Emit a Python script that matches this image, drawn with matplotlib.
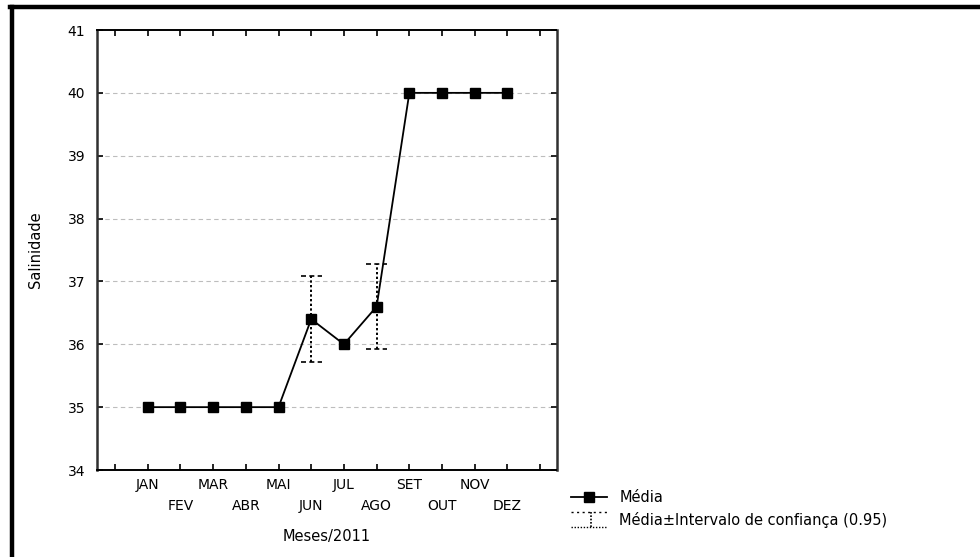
import matplotlib
matplotlib.use("Agg")
import matplotlib.pyplot as plt
from matplotlib.lines import Line2D
from matplotlib.legend_handler import HandlerBase
import numpy as np

plt.rcParams['font.family'] = ['DejaVu Sans']

months = ["JAN", "FEV", "MAR", "ABR", "MAI", "JUN",
          "JUL", "AGO", "SET", "OUT", "NOV", "DEZ"]
salinity = [35.0, 35.0, 35.0, 35.0, 35.0, 36.4, 36.0, 36.6, 40.0, 40.0, 40.0, 40.0]
ci_months = ["JUN", "AGO"]
ci_half = [0.68, 0.68]

x = np.arange(1, len(months) + 1)

fig = plt.figure(figsize=(9.8, 5.57), dpi=100)
ax = fig.add_axes([97 / 980, 1 - 470 / 557, (556.5 - 97) / 980, (470 - 30) / 557])

# dashed horizontal grid
for yv in range(35, 41):
    ax.axhline(yv, color="#bdbdbd", lw=0.8, ls=(0, (4, 3)), zorder=0)

# confidence interval whiskers
for m, h in zip(ci_months, ci_half):
    xi = months.index(m) + 1
    yi = salinity[xi - 1]
    ax.vlines(xi, yi - h, yi + h, color="black", lw=1.4, ls=(0, (1.2, 1.2)), zorder=2)
    ax.hlines([yi - h, yi + h], xi - 0.32, xi + 0.32, color="black", lw=1.2,
              ls=(0, (3, 2)), zorder=2)

ax.plot(x, salinity, color="black", lw=1.3, marker="s", markersize=7,
        markerfacecolor="black", markeredgecolor="black", zorder=3)

ax.set_xlim(-0.55, 13.5)
ax.set_ylim(34, 41)
ax.set_yticks(range(34, 42))
ax.set_xticks(range(0, 14))
xlabels = [""] + [m if i % 2 == 0 else "\n" + m for i, m in enumerate(months)] + [""]
ax.set_xticklabels(xlabels, linespacing=1.65)
ax.tick_params(axis="both", direction="in", length=4, width=1.2, labelsize=10,
               top=True, right=True)
ax.tick_params(axis="x", pad=5.5)
ax.tick_params(axis="y", pad=8.5)

for side in ("left", "right"):
    ax.spines[side].set_linewidth(1.8)
    ax.spines[side].set_color("#303030")
for side in ("top", "bottom"):
    ax.spines[side].set_linewidth(1.4)
    ax.spines[side].set_color("black")

ax.set_xlabel("Meses/2011", fontsize=10.5, labelpad=12)
ax.set_ylabel("Salinidade", fontsize=10.5, labelpad=18)


class CIHandler(HandlerBase):
    def create_artists(self, legend, orig_handle, xdescent, ydescent,
                       width, height, fontsize, trans):
        x0, x1 = -xdescent, -xdescent + width
        y0, y1 = -ydescent - 0.2 * height, -ydescent + 1.2 * height
        xm = x0 + 0.55 * width
        top = Line2D([x0, x1], [y1, y1], color="black", lw=1.0, ls=(0, (1.5, 2.5)))
        bot = Line2D([x0, x1], [y0, y0], color="black", lw=1.0, ls=(0, (1, 1.2)))
        mid = Line2D([xm, xm], [y0, y1], color="black", lw=1.2, ls=(0, (1, 1)))
        for a in (top, bot, mid):
            a.set_transform(trans)
        return [top, bot, mid]


h_mean = Line2D([], [], color="black", lw=1.3, marker="s", markersize=7)
h_ci = object()
leg = fig.legend([h_mean, h_ci], ["Média", "Média±Intervalo de confiança (0.95)"],
                 handler_map={object: CIHandler()},
                 loc="upper left", bbox_to_anchor=(571 / 980, 1 - 490 / 557),
                 frameon=False, fontsize=10.5, handlelength=2.5, handletextpad=0.8,
                 labelspacing=0.45, borderpad=0, borderaxespad=0)

# thick frame lines along the left and top edges
fig.add_artist(Line2D([11.5 / 980, 11.5 / 980], [0, 1 - 7 / 557], color="black",
                      lw=3.2, transform=fig.transFigure))
fig.add_artist(Line2D([10 / 980, 1], [1 - 7 / 557, 1 - 7 / 557], color="black",
                      lw=3.2, transform=fig.transFigure))

fig.savefig("out.png", dpi=100)
